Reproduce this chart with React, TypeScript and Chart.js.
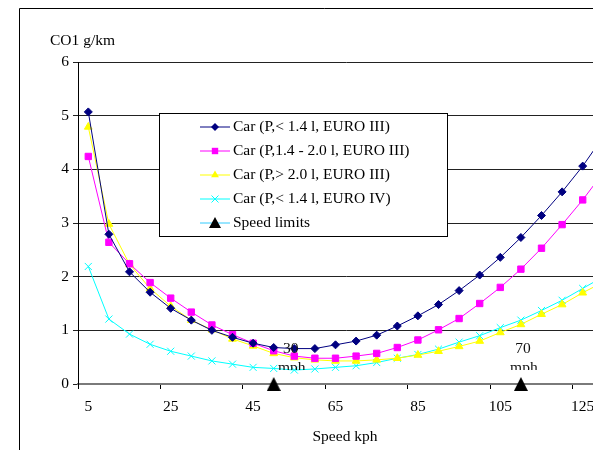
import React, { useEffect, useRef } from 'react';
import { Chart, registerables } from 'chart.js';

Chart.register(...registerables);

const FONT = '"Liberation Serif", "Times New Roman", serif';

const speedsKph = [5, 10, 15, 20, 25, 30, 35, 40, 45, 50, 55, 60, 65, 70, 75, 80, 85, 90, 95, 100, 105, 110, 115, 120, 125, 130];
const carSmallEuro3 = [5.07, 2.79, 2.09, 1.71, 1.41, 1.19, 1.0, 0.87, 0.76, 0.68, 0.66, 0.66, 0.73, 0.8, 0.91, 1.08, 1.27, 1.48, 1.74, 2.03, 2.36, 2.73, 3.14, 3.58, 4.06, 4.61];
const carMidEuro3 = [4.24, 2.64, 2.24, 1.89, 1.6, 1.34, 1.1, 0.92, 0.76, 0.62, 0.52, 0.48, 0.48, 0.52, 0.57, 0.68, 0.82, 1.01, 1.22, 1.5, 1.8, 2.14, 2.53, 2.97, 3.43, 3.94];
const carLargeEuro3 = [4.79, 2.98, 2.23, 1.78, 1.45, 1.19, 1.01, 0.84, 0.71, 0.57, 0.49, 0.45, 0.43, 0.43, 0.45, 0.48, 0.54, 0.61, 0.7, 0.8, 0.96, 1.11, 1.3, 1.48, 1.7, 1.9];
const carSmallEuro4 = [2.19, 1.21, 0.93, 0.74, 0.61, 0.52, 0.43, 0.37, 0.31, 0.29, 0.26, 0.28, 0.31, 0.34, 0.4, 0.48, 0.55, 0.65, 0.78, 0.9, 1.05, 1.19, 1.37, 1.56, 1.78, 2.0];
const speedLimitKph = [50, 110];
const speedLimitMph = ['30', '70'];
const seriesNames = [
  'Car (P,< 1.4 l, EURO III)',
  'Car (P,1.4 - 2.0 l, EURO III)',
  'Car (P,> 2.0 l, EURO III)',
  'Car (P,< 1.4 l, EURO IV)',
  'Speed limits',
];
const seriesColors = ['#000080', '#FF00FF', '#FFFF00', '#00FFFF', '#33CCFF'];
const seriesMarkers = ['rectRot', 'rect', 'triangle', 'crossRot', 'bigTriangle'];
const yAxisTitle = 'CO1 g/km';
const xAxisTitle = 'Speed kph';

function makeTriangleImage(w: number, h: number) {
  const c = document.createElement('canvas');
  c.width = w;
  c.height = h;
  const g = c.getContext('2d')!;
  g.fillStyle = '#000';
  g.beginPath();
  g.moveTo(w / 2, 0);
  g.lineTo(w, h);
  g.lineTo(0, h);
  g.closePath();
  g.fill();
  return c;
}

function drawMarker(ctx: CanvasRenderingContext2D, kind: string, x: number, y: number, color: string) {
  ctx.save();
  ctx.fillStyle = color;
  ctx.strokeStyle = color;
  ctx.lineWidth = 1;
  ctx.beginPath();
  if (kind === 'rectRot') {
    const r = 4;
    ctx.moveTo(x, y - r);
    ctx.lineTo(x + r, y);
    ctx.lineTo(x, y + r);
    ctx.lineTo(x - r, y);
    ctx.closePath();
    ctx.fill();
  } else if (kind === 'rect') {
    const s = 3.2;
    ctx.rect(x - s, y - s, 2 * s, 2 * s);
    ctx.fill();
  } else if (kind === 'triangle') {
    const r = 4.5;
    ctx.moveTo(x, y - r);
    ctx.lineTo(x + r * 0.87, y + r * 0.5);
    ctx.lineTo(x - r * 0.87, y + r * 0.5);
    ctx.closePath();
    ctx.fill();
  } else if (kind === 'crossRot') {
    const r = 3.5;
    ctx.moveTo(x - r, y - r);
    ctx.lineTo(x + r, y + r);
    ctx.moveTo(x + r, y - r);
    ctx.lineTo(x - r, y + r);
    ctx.stroke();
  } else if (kind === 'bigTriangle') {
    ctx.fillStyle = '#000';
    ctx.moveTo(x, y - 6);
    ctx.lineTo(x + 6, y + 5);
    ctx.lineTo(x - 6, y + 5);
    ctx.closePath();
    ctx.fill();
  }
  ctx.restore();
}

const decorPlugin = {
  id: 'decor',
  afterDraw(chart: any) {
    const ctx: CanvasRenderingContext2D = chart.ctx;
    const area = chart.chartArea;
    ctx.save();
    // outer frame
    ctx.strokeStyle = '#000';
    ctx.lineWidth = 1;
    ctx.beginPath();
    ctx.moveTo(19.5, chart.height);
    ctx.lineTo(19.5, 8.5);
    ctx.lineTo(chart.width, 8.5);
    ctx.stroke();

    // axis titles
    ctx.fillStyle = '#000';
    ctx.font = `15.5px ${FONT}`;
    ctx.textBaseline = 'middle';
    ctx.textAlign = 'left';
    ctx.fillText(yAxisTitle, 50, 41);
    ctx.textAlign = 'center';
    ctx.fillText(xAxisTitle, 345, 437);

    // speed-limit labels
    const meta = chart.getDatasetMeta(4);
    const labelShift = [17, 2];
    speedLimitKph.forEach((kph, k) => {
      const idx = speedsKph.indexOf(kph);
      const pt = meta.data[idx];
      if (!pt) return;
      const cx = pt.x + labelShift[k];
      ctx.save();
      ctx.beginPath();
      ctx.rect(cx - 30, pt.y - 60, 60, 46);
      ctx.clip();
      ctx.textAlign = 'center';
      ctx.textBaseline = 'alphabetic';
      ctx.fillStyle = '#111';
      ctx.fillText(speedLimitMph[k], cx, pt.y - 31);
      ctx.fillText('mph', cx + 1, pt.y - 12);
      ctx.restore();
    });

    // legend
    const bx = area.left + 81.5;
    const by = area.top + 51.5;
    const bw = 288;
    const bh = 123;
    ctx.fillStyle = '#fff';
    ctx.fillRect(bx, by, bw, bh);
    ctx.strokeStyle = '#000';
    ctx.lineWidth = 1;
    ctx.strokeRect(bx, by, bw, bh);
    seriesNames.forEach((name, i) => {
      const ry = by + 13.5 + i * 24;
      const lx = bx + 40.5;
      ctx.strokeStyle = seriesColors[i];
      ctx.lineWidth = 1;
      ctx.beginPath();
      ctx.moveTo(lx, ry);
      ctx.lineTo(lx + 30, ry);
      ctx.stroke();
      drawMarker(ctx, seriesMarkers[i], lx + 15, ry, seriesColors[i]);
      ctx.fillStyle = '#000';
      ctx.textAlign = 'left';
      ctx.textBaseline = 'middle';
      ctx.font = `15.5px ${FONT}`;
      ctx.fillText(name, lx + 33, ry);
    });
    ctx.restore();
  },
};

export default function App() {
  const canvasRef = useRef<HTMLCanvasElement | null>(null);

  useEffect(() => {
    const canvas = canvasRef.current;
    if (!canvas) return;
    Chart.defaults.font.family = FONT;
    Chart.defaults.font.size = 15;
    Chart.defaults.color = '#000';
    const tri = makeTriangleImage(14, 14);
    const limitData = speedsKph.map((s) => (speedLimitKph.includes(s) ? 0 : null));

    const lineSet = (i: number, data: number[], style: string, radius: number) => ({
      label: seriesNames[i],
      data,
      borderColor: seriesColors[i],
      backgroundColor: seriesColors[i],
      pointBackgroundColor: seriesColors[i],
      pointBorderColor: seriesColors[i],
      borderWidth: 1,
      pointBorderWidth: 1,
      pointStyle: style,
      pointRadius: radius,
      tension: 0,
      fill: false,
    });

    const chart = new Chart(canvas, {
      type: 'line',
      data: {
        labels: speedsKph.map(String),
        datasets: [
          lineSet(0, carSmallEuro3, 'rectRot', 4),
          lineSet(1, carMidEuro3, 'rect', 4.5),
          lineSet(2, carLargeEuro3, 'triangle', 4.5),
          lineSet(3, carSmallEuro4, 'crossRot', 5),
          {
            label: seriesNames[4],
            data: limitData as any,
            borderColor: seriesColors[4],
            backgroundColor: '#000',
            showLine: false,
            pointStyle: tri as any,
            pointRadius: 7,
            clip: false as any,
          },
        ],
      },
      options: {
        responsive: false,
        animation: false,
        devicePixelRatio: 1,
        layout: { padding: { top: 62, right: 16.4, left: 0, bottom: 0 } },
        plugins: {
          legend: { display: false },
          tooltip: { enabled: false },
          title: { display: false },
        },
        scales: {
          x: {
            type: 'category',
            offset: true,
            afterFit: (scale: any) => {
              scale.height = 66;
            },
            grid: {
              offset: true,
              drawOnChartArea: false,
              drawTicks: true,
              tickLength: 5,
              color: (ctx: any) => (ctx.index % 4 === 0 ? '#000' : 'rgba(0,0,0,0)'),
            },
            border: { display: true, color: '#7a7a7a', width: 2 },
            ticks: {
              autoSkip: false,
              maxRotation: 0,
              minRotation: 0,
              padding: 9,
              font: { family: FONT, size: 15.5 },
              color: '#000',
              callback: (_v: any, index: number) => (index % 4 === 0 ? String(speedsKph[index]) : ''),
            },
          },
          y: {
            min: 0,
            max: 6,
            afterFit: (scale: any) => {
              scale.width = 78;
            },
            grid: {
              color: '#222',
              lineWidth: 1,
              drawTicks: true,
              tickLength: 5,
            },
            border: { display: true, color: '#000', width: 1 },
            ticks: {
              stepSize: 1,
              padding: 4,
              font: { family: FONT, size: 15.5 },
              color: '#000',
            },
          },
        },
      },
      plugins: [decorPlugin],
    });
    return () => chart.destroy();
  }, []);

  return (
    <div style={{ position: 'absolute', left: 0, top: 0, width: 593, height: 450, overflow: 'hidden', background: '#fff' }}>
      <canvas ref={canvasRef} width={630} height={450} style={{ display: 'block', width: 630, height: 450 }} />
    </div>
  );
}
